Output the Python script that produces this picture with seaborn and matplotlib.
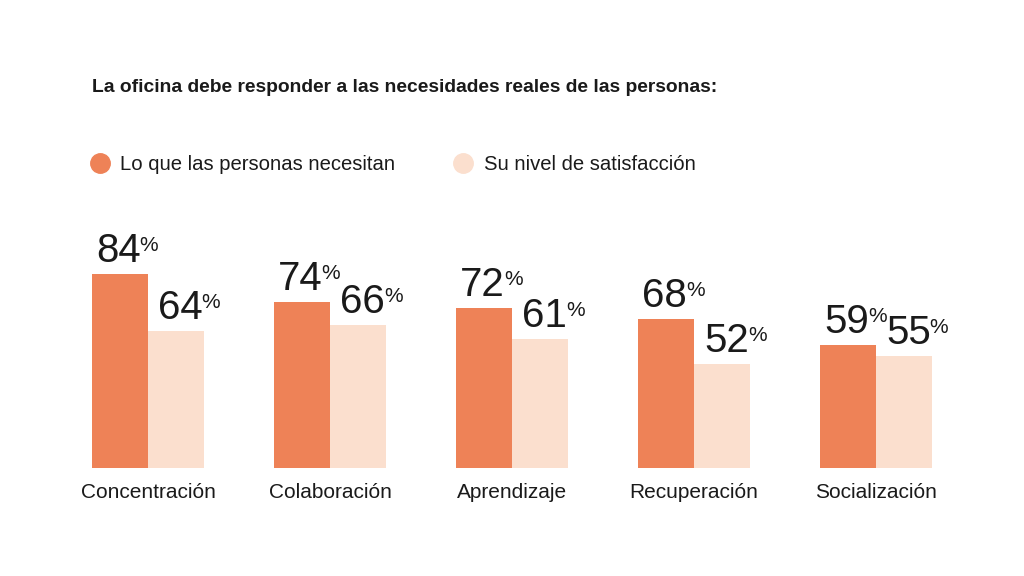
import pandas as pd
import matplotlib.pyplot as plt
import seaborn as sns

categories = ["Concentración", "Colaboración", "Aprendizaje", "Recuperación", "Socialización"]
series_names = ["Lo que las personas necesitan", "Su nivel de satisfacción"]
needed = [84, 74, 72, 68, 59]
satisfaction = [64, 66, 61, 52, 55]

colors = ["#EE8257", "#FBDFCE"]

df = pd.DataFrame({
    "Categoria": categories * 2,
    "Serie": [series_names[0]] * 5 + [series_names[1]] * 5,
    "Valor": needed + satisfaction,
})

sns.set_style("white")
plt.rcParams["font.family"] = ["Liberation Sans", "DejaVu Sans"]

fig = plt.figure(figsize=(10.24, 5.76), dpi=100)
ax = fig.add_axes([0, 108 / 576, 1, 468 / 576])

sns.barplot(data=df, x="Categoria", y="Valor", hue="Serie", order=categories,
            hue_order=series_names, palette=colors, width=0.615, saturation=1,
            linewidth=0, legend=False, ax=ax)

ax.set_xlim(-148 / 182, (1024 - 148) / 182)
ax.set_ylim(15.2, 181.4)
sns.despine(ax=ax, left=True, bottom=True)
ax.set_yticks([])
ax.set_xlabel("")
ax.set_ylabel("")
ax.tick_params(axis="x", length=0, pad=11, labelsize=15, labelcolor="#1a1a1a")

# value labels with small superscript percent sign
for i, container in enumerate(ax.containers):
    dx = 4 if i == 0 else 10
    for bar, val in zip(container, [needed, satisfaction][i]):
        t = ax.annotate(str(val), xy=(bar.get_x(), bar.get_height()),
                        xytext=(dx, 12), textcoords="offset pixels",
                        ha="left", va="baseline", fontsize=29, color="#1a1a1a")
        ax.annotate("%", xy=(1, 1), xycoords=t, xytext=(-1, -4),
                    textcoords="offset pixels", ha="left", va="top",
                    fontsize=15, color="#1a1a1a")

fig.text(92 / 1024, 1 - 87 / 576, "La oficina debe responder a las necesidades reales de las personas:",
         fontsize=13.9, fontweight="bold", color="#1a1a1a", ha="left", va="center")

# legend
legend_items = [(100, 120, series_names[0], colors[0]), (463, 484, series_names[1], colors[1])]
for cx, tx, label, c in legend_items:
    fig.add_artist(plt.Line2D([cx / 1024], [1 - 163 / 576], marker="o", markersize=14,
                              color=c, linestyle="none", transform=fig.transFigure))
    fig.text(tx / 1024, 1 - 164 / 576, label, fontsize=14.6, color="#1a1a1a",
             ha="left", va="center")

fig.savefig("out.png", dpi=100, facecolor="white")
